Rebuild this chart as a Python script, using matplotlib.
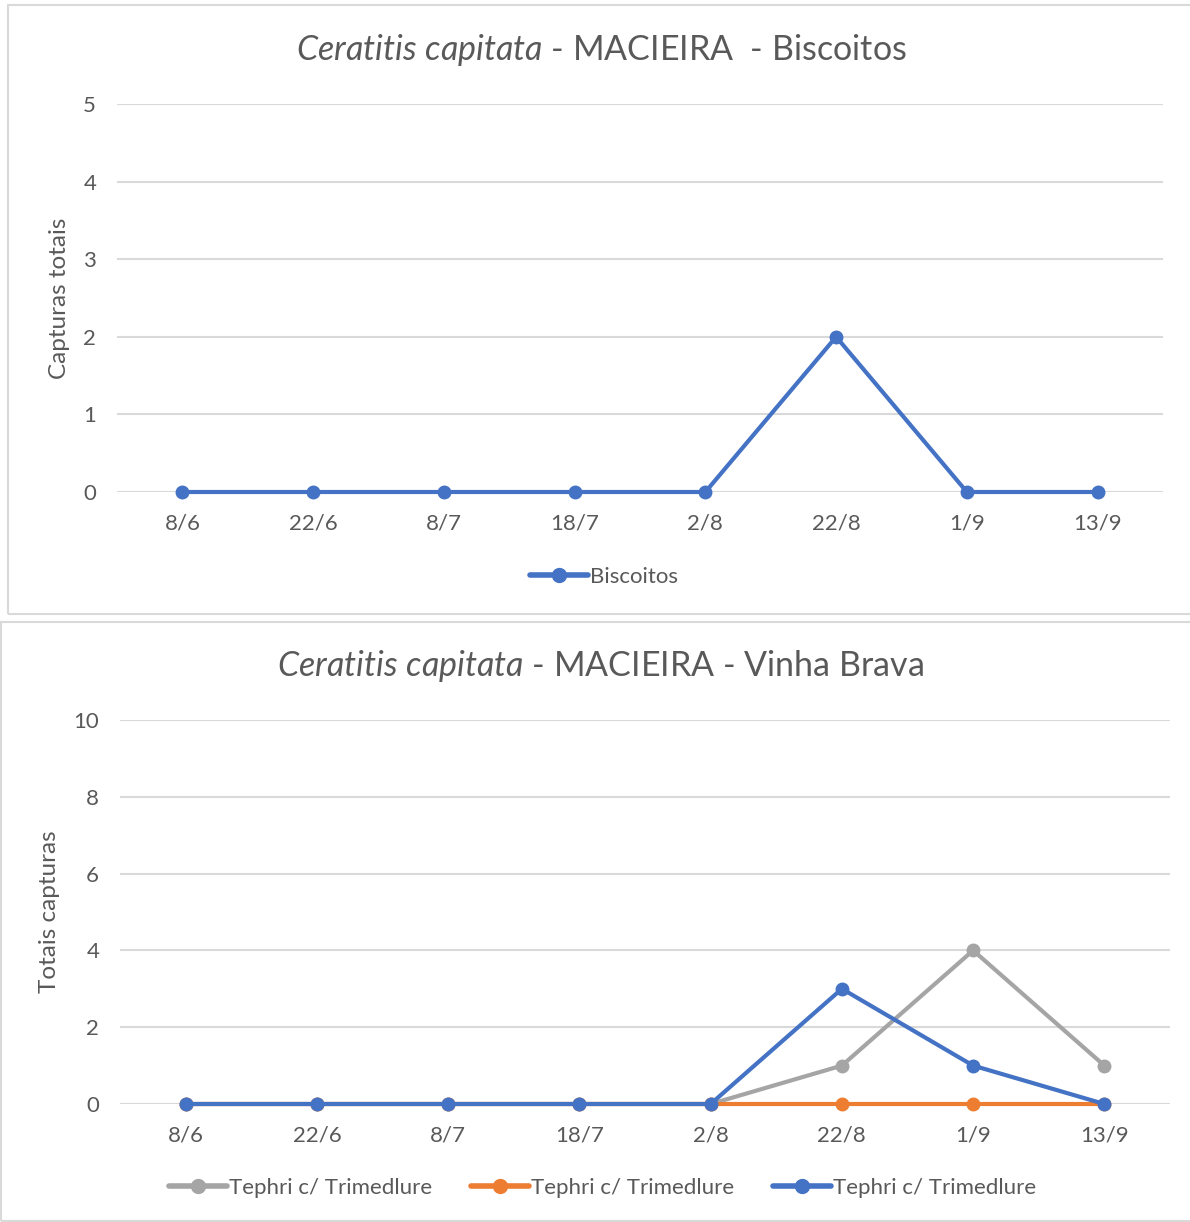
import matplotlib
matplotlib.use('Agg')
import matplotlib.pyplot as plt
import matplotlib.patches as mpatches
from matplotlib.lines import Line2D

plt.rcParams['font.family'] = ['Lato', 'DejaVu Sans']
plt.rcParams['mathtext.fontset'] = 'custom'
plt.rcParams['mathtext.rm'] = 'Lato'
plt.rcParams['mathtext.it'] = 'Lato:italic'

# data
dates = ['8/6', '22/6', '8/7', '18/7', '2/8', '22/8', '1/9', '13/9']
biscoitos = [0, 0, 0, 0, 0, 2, 0, 0]
vb_grey = [0, 0, 0, 0, 0, 1, 4, 1]
vb_orange = [0, 0, 0, 0, 0, 0, 0, 0]
vb_blue = [0, 0, 0, 0, 0, 3, 1, 0]
vb_labels = ['Tephri c/ Trimedlure', 'Tephri c/ Trimedlure', 'Tephri c/ Trimedlure']

BLUE = '#4472C4'
ORANGE = '#ED7D31'
GREY = '#A5A5A5'
TXT = '#595959'
GRID = '#D9D9D9'

W, H = 1190, 1222
fig = plt.figure(figsize=(W / 100, H / 100), dpi=100)

# chart frames
fig.patches.append(mpatches.Rectangle((8 / W, 1 - 614 / H), 1.2, (614 - 5) / H, transform=fig.transFigure,
                                      fill=False, edgecolor='#D9D9D9', linewidth=1.5))
fig.patches.append(mpatches.Rectangle((0.5 / W, 1 - 1221 / H), 1.2, (1221 - 622) / H, transform=fig.transFigure,
                                      fill=False, edgecolor='#D9D9D9', linewidth=1.5))


def make_ax(x0, x1, y_bottom, y_top):
    return fig.add_axes([x0 / W, 1 - y_bottom / H, (x1 - x0) / W, (y_bottom - y_top) / H])


def style(ax, ymax, step, ylabel, label_x):
    ax.set_xlim(-0.5, len(dates) - 0.5)
    ax.set_ylim(0, ymax)
    ax.set_yticks(range(0, ymax + 1, step))
    ax.set_xticks(range(len(dates)))
    ax.set_xticklabels(dates)
    ax.grid(axis='y', color=GRID, linewidth=1.5)
    ax.set_axisbelow(True)
    for s in ax.spines.values():
        s.set_visible(False)
    ax.tick_params(length=0, labelsize=16, colors=TXT, pad=15)
    ax.tick_params(axis='x', pad=15.5)
    ax.set_ylabel(ylabel, fontsize=17.5, color=TXT, va='center')
    ax.yaxis.set_label_coords(label_x, 0.5)


line_kw = dict(linewidth=3, marker='o', markersize=9, solid_capstyle='round', clip_on=False)
leg_kw = dict(linewidth=4, marker='o', markersize=10, solid_capstyle='round')

# top chart
ax1 = make_ax(117, 1163, 492, 104)
ax1.plot(range(len(dates)), biscoitos, color=BLUE, label='Biscoitos', **line_kw)
style(ax1, 5, 1, 'Capturas totais', (60 - 117) / 1046)
fig.text(601 / W, 1 - 50 / H, r'$\it{Ceratitis\ capitata}$ - MACIEIRA  - Biscoitos',
         ha='center', va='center', fontsize=24.5, color=TXT)
fig.legend(handles=[Line2D([], [], color=BLUE, **leg_kw)], labels=['Biscoitos'],
           loc='center', bbox_to_anchor=(604 / W, 1 - 577 / H), frameon=False,
           fontsize=16, labelcolor=TXT, handlelength=2.6, handletextpad=0.1)

# bottom chart
ax2 = make_ax(120, 1170, 1104, 720)
x = range(len(dates))
ax2.plot(x, vb_grey, color=GREY, **line_kw)
ax2.plot(x, vb_orange, color=ORANGE, **line_kw)
ax2.plot(x, vb_blue, color=BLUE, **line_kw)
style(ax2, 10, 2, 'Totais capturas', (50 - 120) / 1050)
fig.text(600 / W, 1 - 666 / H, r'$\it{Ceratitis\ capitata}$ - MACIEIRA - Vinha Brava',
         ha='center', va='center', fontsize=24.5, color=TXT)
handles = [Line2D([], [], color=c, **leg_kw) for c in (GREY, ORANGE, BLUE)]
fig.legend(handles=handles, labels=vb_labels, loc='center', ncol=3,
           bbox_to_anchor=(603 / W, 1 - 1188 / H), frameon=False,
           fontsize=16, labelcolor=TXT, handlelength=2.6, handletextpad=0.1, columnspacing=1.75)

fig.savefig('out.png', dpi=100, facecolor='white')
